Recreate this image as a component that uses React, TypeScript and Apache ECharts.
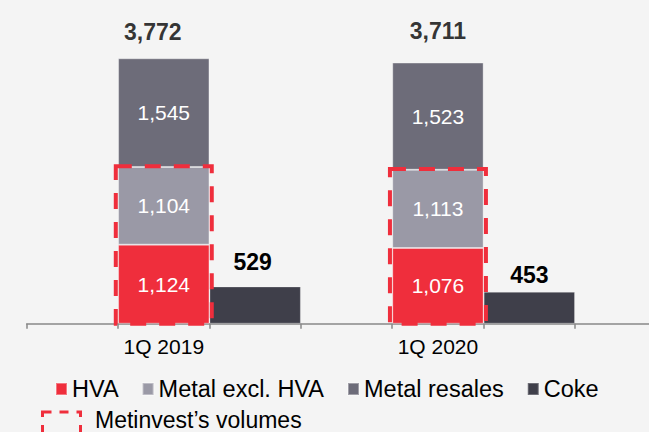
import React, { useEffect, useRef } from "react";
import * as echarts from "echarts";

const categories = ["1Q 2019", "1Q 2020"];
const hva = [1124, 1076];
const metalExclHva = [1104, 1113];
const metalResales = [1545, 1523];
const coke = [529, 453];
const totals = [3772, 3711];
const seriesNames = ["HVA", "Metal excl. HVA", "Metal resales", "Coke"];
const boxLegendLabel = "Metinvest’s volumes";

const COLORS = ["#EF2E3C", "#9A99A6", "#6D6C79", "#3F3F4A"];
const RED = "#EF2E3C";
const FONT = "'Liberation Sans', Arial, Helvetica, sans-serif";

// 7 slots on the category axis: [gap, stack, coke, gap, stack, coke, gap]
const slots = ["s0", "s1", "s2", "s3", "s4", "s5", "s6"];
const slotOf = (i: number, off: number) => slots[off + 3 * i];
const toSlots = (vals: number[], off: number) =>
  slots.map((_, k) => {
    const i = (k - off) / 3;
    return Number.isInteger(i) && i >= 0 && i < vals.length ? vals[i] : "-";
  });

const fmt = (v: number) => v.toLocaleString("en-US");

// label placement tweaks (styles, not data)
const totalDist = [26.3, 31.3];
const totalDx = [-11, 0];
const cokeDist = [24.8, 17.1];
const cokeDx = [-2.5, 0];

export default function App() {
  const ref = useRef<HTMLDivElement>(null);
  useEffect(() => {
    if (!ref.current) return;
    const chart = echarts.init(ref.current, null, { renderer: "svg" });
    const inner = {
      show: true,
      position: "inside",
      color: "#ffffff",
      fontSize: 21,
      fontFamily: FONT,
      formatter: (p: any) => fmt(p.value),
    };
    const barBase = {
      type: "bar",
      stack: "a",
      barWidth: "100%",
      barCategoryGap: 0,
    };
    const stackVals = [hva, metalExclHva, metalResales];
    const series: any[] = stackVals.map((vals, s) => ({
      ...barBase,
      name: seriesNames[s],
      data: toSlots(vals, 1),
      itemStyle: { color: COLORS[s], borderColor: "rgba(255,255,255,0.35)", borderWidth: 1 },
      label: inner,
    }));
    series.push({
      ...barBase,
      name: seriesNames[3],
      data: toSlots(coke, 2).map((v, k) => {
        if (v === "-") return v;
        const i = (k - 2) / 3;
        return {
          value: v,
          label: { distance: cokeDist[i], offset: [cokeDx[i], 0] },
        };
      }),
      itemStyle: { color: COLORS[3], borderColor: "rgba(255,255,255,0.25)", borderWidth: 1 },
      label: {
        show: true,
        position: "top",
        verticalAlign: "middle",
        color: "#000",
        fontSize: 23,
        fontWeight: "bold",
        fontFamily: FONT,
        formatter: (p: any) => fmt(p.value),
      },
    });
    series.push({
      type: "scatter",
      name: "Total",
      symbolSize: 0,
      silent: true,
      data: totals.map((t, i) => ({
        value: [slotOf(i, 1), t],
        label: { distance: totalDist[i], offset: [totalDx[i], 0] },
      })),
      label: {
        show: true,
        position: "top",
        verticalAlign: "middle",
        color: "#000",
        fontSize: 23,
        fontWeight: "bold",
        fontFamily: FONT,
        formatter: (p: any) => fmt(p.value[1]),
      },
    });

    chart.setOption({
      animation: false,
      backgroundColor: "#F4F4F4",
      textStyle: { fontFamily: FONT },
      grid: { left: 26.7, top: 42.3, width: 639.7, height: 281.4, containLabel: false },
      xAxis: {
        type: "category",
        data: slots,
        boundaryGap: true,
        axisLine: { show: true, lineStyle: { color: "#888888", width: 1.5 } },
        axisTick: { show: true, interval: 0, length: 5, lineStyle: { color: "#888888", width: 1.5 } },
        axisLabel: {
          interval: 0,
          margin: 12,
          color: "#000",
          fontSize: 21,
          fontFamily: FONT,
          formatter: (v: string) => {
            const i = (slots.indexOf(v) - 1) / 3;
            return Number.isInteger(i) && i >= 0 && i < categories.length ? categories[i] : "";
          },
        },
      },
      yAxis: { type: "value", min: 0, max: 4000, show: false, splitLine: { show: false } },
      legend: {
        data: seriesNames,
        left: 55,
        top: 377,
        padding: 0,
        icon: "rect",
        itemWidth: 11,
        itemHeight: 12,
        itemGap: 23,
        textStyle: { color: "#000", fontSize: 23.5, fontFamily: FONT },
        selectedMode: false,
      },
      series,
    });

    // dashed "Metinvest's volumes" boxes from the axes' own scales
    const x1 = chart.convertToPixel({ xAxisIndex: 0 }, slots[1]) as number;
    const x2 = chart.convertToPixel({ xAxisIndex: 0 }, slots[2]) as number;
    const bw = x2 - x1;
    const yBase = chart.convertToPixel({ yAxisIndex: 0 }, 0) as number;
    const boxes = categories.map((_, i) => {
      const cx = chart.convertToPixel({ xAxisIndex: 0 }, slotOf(i, 1)) as number;
      const yTop = chart.convertToPixel({ yAxisIndex: 0 }, hva[i] + metalExclHva[i]) as number;
      return {
        type: "rect",
        z: 100,
        silent: true,
        shape: { x: cx - bw / 2 - 2.3, y: yTop - 0.7, width: bw + 4.6, height: yBase - yTop + 0.7 },
        style: { fill: "none", stroke: RED, lineWidth: 4, lineDash: [16, 13] },
      };
    });
    chart.setOption({
      graphic: [
        ...boxes,
        {
          type: "rect",
          silent: true,
          shape: { x: 42.5, y: 412, width: 38, height: 24 },
          style: { fill: "none", stroke: RED, lineWidth: 3, lineDash: [9, 8] },
        },
        {
          type: "text",
          silent: true,
          x: 95,
          y: 420,
          style: {
            text: boxLegendLabel,
            fill: "#000",
            fontSize: 23,
            fontFamily: FONT,
            verticalAlign: "middle",
            align: "left",
          },
        },
      ],
    });
    return () => chart.dispose();
  }, []);
  return (
    <div
      style={{
        position: "fixed",
        left: 0,
        top: 0,
        width: 649,
        height: 432,
        overflow: "hidden",
        background: "#F4F4F4",
      }}
    >
      <div ref={ref} style={{ width: 690, height: 432 }} />
    </div>
  );
}
